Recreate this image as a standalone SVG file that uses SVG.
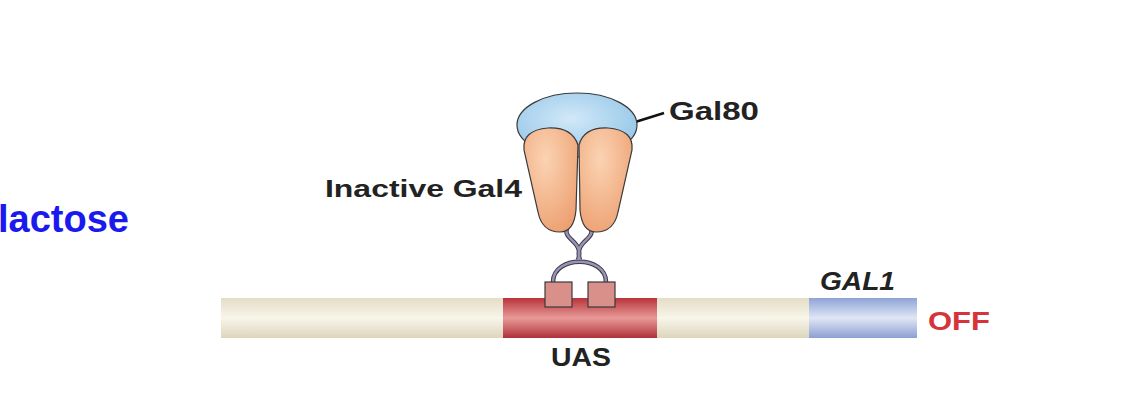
<svg xmlns="http://www.w3.org/2000/svg" width="1143" height="414" viewBox="0 0 1143 414">
<defs>
<linearGradient id="gB" x1="0" y1="0" x2="0" y2="1"><stop offset="0" stop-color="#e4ddc6"/><stop offset="0.5" stop-color="#f8f5ea"/><stop offset="1" stop-color="#ddd5bc"/></linearGradient>
<linearGradient id="gR" x1="0" y1="0" x2="0" y2="1"><stop offset="0" stop-color="#b8343a"/><stop offset="0.5" stop-color="#e89a98"/><stop offset="1" stop-color="#b0303a"/></linearGradient>
<linearGradient id="gU" x1="0" y1="0" x2="0" y2="1"><stop offset="0" stop-color="#8fa3d6"/><stop offset="0.5" stop-color="#e0e6f5"/><stop offset="1" stop-color="#8c9fd2"/></linearGradient>
<radialGradient id="gO" cx="0.4" cy="0.3" r="0.8"><stop offset="0" stop-color="#fbd3b3"/><stop offset="1" stop-color="#ec9e6e"/></radialGradient>
<radialGradient id="gL" cx="0.45" cy="0.4" r="0.7"><stop offset="0" stop-color="#d2e8f8"/><stop offset="1" stop-color="#8ec3e6"/></radialGradient>
<style>.t{font-family:"Liberation Sans",Arial,sans-serif;font-weight:bold;fill:#222}.o{stroke:#3a3a3a;stroke-width:1.2}</style>
</defs>
<text x="-2" y="232" style="font-family:'Liberation Sans',Arial,sans-serif;font-weight:bold;font-size:38px;fill:#1a1aee">lactose</text>
<g id="dna">
<rect x="221" y="298" width="696" height="40" fill="url(#gB)"/>
<rect x="503" y="298" width="154" height="40" fill="url(#gR)"/>
<rect x="809" y="298" width="108" height="40" fill="url(#gU)"/>
</g>
<g id="connectors" fill="none">
<path d="M553 282 C553 255 606 255 606 282" stroke="#3a3a4a" stroke-width="4.5"/>
<path d="M553 282 C553 255 606 255 606 282" stroke="#9c92b4" stroke-width="2.5"/>
<path d="M568 226 C560 240 585 240 578 260 M590 226 C598 240 573 240 580 260" stroke="#3a3a4a" stroke-width="4.5"/>
<path d="M568 226 C560 240 585 240 578 260 M590 226 C598 240 573 240 580 260" stroke="#9c92b4" stroke-width="2.5"/>
<path d="M632 123 L664 113" stroke="#111" stroke-width="2.5"/>
</g>
<g id="gal4dbd">
<rect x="545" y="282" width="27" height="25" fill="#d98f8a" class="o"/>
<rect x="588" y="282" width="27" height="25" fill="#d98f8a" class="o"/>
</g>
<g id="gal80">
<ellipse cx="577" cy="125" rx="60" ry="32" fill="url(#gL)" class="o"/>
</g>
<g id="gal4">
<path d="M524 150 Q522 130 548 128 Q572 127 578 145 L576 210 Q574 232 560 232 Q542 232 538 212 Z" fill="url(#gO)" class="o"/>
<path d="M632 150 Q634 130 608 128 Q584 127 579 145 L580 210 Q582 232 596 232 Q614 232 618 212 Z" fill="url(#gO)" class="o"/>
</g>
<text class="t" x="325" y="197" font-size="24" textLength="197" lengthAdjust="spacingAndGlyphs">Inactive Gal4</text>
<text class="t" x="669" y="120" font-size="25" textLength="90" lengthAdjust="spacingAndGlyphs">Gal80</text>
<text class="t" x="551" y="366" font-size="25" textLength="60" lengthAdjust="spacingAndGlyphs">UAS</text>
<text class="t" x="820" y="290" font-size="25" font-style="italic" textLength="75" lengthAdjust="spacingAndGlyphs">GAL1</text>
<text x="928" y="330" font-size="26" textLength="62" lengthAdjust="spacingAndGlyphs" style="font-family:'Liberation Sans',Arial,sans-serif;font-weight:bold;fill:#d6333a">OFF</text>
</svg>
